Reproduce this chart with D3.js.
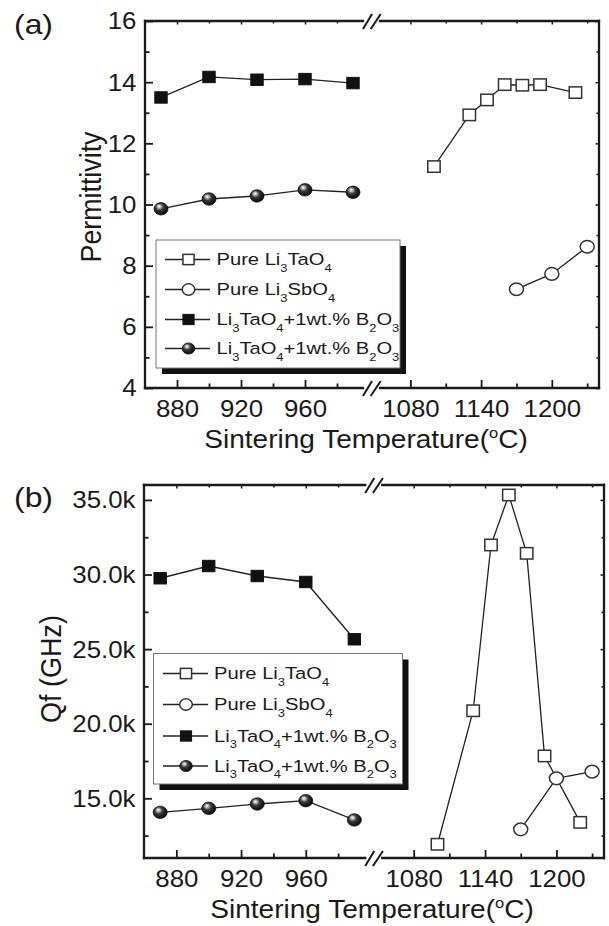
<!DOCTYPE html>
<html><head><meta charset="utf-8">
<script src="https://cdn.jsdelivr.net/npm/d3@7"></script>
<style>
body{margin:0;background:#fff}
svg{display:block}
text{font-family:"Liberation Sans",Arial,Helvetica,sans-serif;fill:#1a1a1a}
</style>
</head><body>
<svg id="c" width="609" height="926"></svg>
<script>
// ---------------- data ----------------
const pureTaTemps = [1100, 1130, 1145, 1160, 1175, 1190, 1220];
const pureSbTemps = [1170, 1200, 1230];
const dopedTemps  = [870, 900, 930, 960, 990];

const permPureTa   = [11.24, 12.93, 13.42, 13.92, 13.90, 13.92, 13.66];
const permPureSb   = [7.23, 7.73, 8.62];
const permDopedSq  = [13.50, 14.17, 14.08, 14.10, 13.97];
const permDopedSph = [9.86, 10.18, 10.28, 10.48, 10.40];

const qfPureTa   = [11920, 20870, 31980, 35330, 31420, 17840, 13390];
const qfPureSb   = [12920, 16340, 16790];
const qfDopedSq  = [29750, 30570, 29900, 29500, 25660];
const qfDopedSph = [14060, 14330, 14620, 14840, 13550];

const xMajorLeft  = [880, 920, 960];
const xMinorLeft  = [900, 940, 980];
const xMajorRight = [1080, 1140, 1200];
const xMinorRight = [1110, 1170, 1230];

const permTicks = [4, 6, 8, 10, 12, 14, 16];
const permMinor = [5, 7, 9, 11, 13, 15];
const qfTicks   = [15000, 20000, 25000, 30000, 35000];
const qfMinor   = [12500, 17500, 22500, 27500, 32500];

const legendLabels = [
  [["Pure Li",0],["3",1],["TaO",0],["4",1]],
  [["Pure Li",0],["3",1],["SbO",0],["4",1]],
  [["Li",0],["3",1],["TaO",0],["4",1],["+1wt.% B",0],["2",1],["O",0],["3",1]],
  [["Li",0],["3",1],["TaO",0],["4",1],["+1wt.% B",0],["2",1],["O",0],["3",1]]
];
const markerTypes = ["osq","oci","fsq","sph"];
const xTitle = "Sintering Temperature(";

// ---------------- drawing ----------------
const svg = d3.select("#c");
const defs = svg.append("defs");
const grad = defs.append("radialGradient").attr("id","sph")
  .attr("cx","0.42").attr("cy","0.40").attr("r","0.62").attr("fx","0.36").attr("fy","0.30");
grad.append("stop").attr("offset","0").attr("stop-color","#ffffff");
grad.append("stop").attr("offset","0.16").attr("stop-color","#c8c8c8");
grad.append("stop").attr("offset","0.45").attr("stop-color","#3a3a3a");
grad.append("stop").attr("offset","1").attr("stop-color","#050505");

const SX = 1.1;
const INK = "#1a1a1a";

function marker(g, type, cx, cy, s) {
  s = s || 1;
  if (type === "osq") {
    g.append("rect").attr("x", cx-6.2*s).attr("y", cy-5.7*s).attr("width", 12.4*s).attr("height", 11.4*s)
      .attr("fill","#fff").attr("stroke","#333").attr("stroke-width",1.5);
  } else if (type === "fsq") {
    g.append("rect").attr("x", cx-6.2*s).attr("y", cy-5.7*s).attr("width", 12.4*s).attr("height", 11.4*s)
      .attr("fill","#111").attr("stroke","#111").attr("stroke-width",1);
  } else if (type === "oci") {
    g.append("ellipse").attr("cx", cx).attr("cy", cy).attr("rx", 7*s).attr("ry", 6.3*s)
      .attr("fill","#fff").attr("stroke","#333").attr("stroke-width",1.5);
  } else {
    g.append("ellipse").attr("cx", cx).attr("cy", cy).attr("rx", 7*s).attr("ry", 6.2*s)
      .attr("fill","url(#sph)").attr("stroke","#111").attr("stroke-width",0.8);
  }
}

function richText(g, parts, x, y, size, subSize, sx) {
  const t = g.append("text").attr("transform", `translate(${x},${y}) scale(${sx},1)`)
    .attr("font-size", size);
  let lowered = false;
  parts.forEach(([s, sub]) => {
    const ts = t.append("tspan").text(s);
    if (sub && !lowered) { ts.attr("dy", 6.5).attr("font-size", subSize); lowered = true; }
    else if (sub) { ts.attr("font-size", subSize); }
    else if (!sub && lowered) { ts.attr("dy", -6.5); lowered = false; }
  });
  return t;
}

function panel(cfg) {
  const { L, B1, B2, R, T, Bot, yDomain, yTicks, yMinor, yFmt, series,
          yTitle, yTitleX, yTitleY, yTitleSize, tag, tagY, leg, xTitleX } = cfg;
  const xl = d3.scaleLinear([860, 1000], [L, B1]);
  const xr = d3.scaleLinear([1050, 1240], [B2, R]);
  const x = v => v < 1020 ? xl(v) : xr(v);
  const y = d3.scaleLinear(yDomain, [Bot, T]);
  const g = svg.append("g");

  function ax(axis, tx, ty, sw) {
    const a = g.append("g").attr("transform", `translate(${tx},${ty})`).call(axis);
    a.attr("font-size", null).attr("font-family", null);
    a.select(".domain").remove();
    a.selectAll("line").attr("stroke", INK).attr("stroke-width", sw || 1.8);
    return a;
  }
  // bottom x ticks with labels
  [xl, xr].forEach((sc, i) => {
    const maj = i ? xMajorRight : xMajorLeft, mnr = i ? xMinorRight : xMinorLeft;
    const a = ax(d3.axisBottom(sc).tickValues(maj).tickSize(-8).tickPadding(12.3).tickFormat(d3.format("d")), 0, Bot);
    a.selectAll("text").attr("font-size", 23.5).attr("fill", INK).attr("transform", `scale(${SX},1)`);
    ax(d3.axisBottom(sc).tickValues(mnr).tickSize(-4.5).tickFormat(""), 0, Bot);
    ax(d3.axisTop(sc).tickValues(maj).tickSize(-3.5).tickFormat(""), 0, T, 1.5);
    ax(d3.axisTop(sc).tickValues(mnr).tickSize(-2.5).tickFormat(""), 0, T, 1.5);
  });
  // y ticks
  const ay = ax(d3.axisLeft(y).tickValues(yTicks).tickSize(-8).tickPadding(0).tickFormat(yFmt), L, 0);
  ay.selectAll("text").attr("font-size", 23.5).attr("fill", INK).attr("x", 0).attr("dy", "0.34em")
    .attr("transform", `translate(-8.5,0) scale(${SX},1)`);
  ax(d3.axisLeft(y).tickValues(yMinor).tickSize(-4.5).tickFormat(""), L, 0);
  ax(d3.axisRight(y).tickValues(yTicks).tickSize(-3.5).tickFormat(""), R, 0, 1.5);
  ax(d3.axisRight(y).tickValues(yMinor).tickSize(-2.5).tickFormat(""), R, 0, 1.5);

  // frame with axis break
  const c = (B1 + B2) / 2;
  const fr = g.append("g").attr("stroke", INK).attr("stroke-width", 2.3).attr("fill", "none").attr("stroke-linecap","square");
  fr.append("line").attr("x1", L).attr("y1", T).attr("x2", L).attr("y2", Bot);
  fr.append("line").attr("x1", R).attr("y1", T).attr("x2", R).attr("y2", Bot);
  [T, Bot].forEach(yy => {
    fr.append("line").attr("x1", L).attr("y1", yy).attr("x2", c - 9).attr("y2", yy);
    fr.append("line").attr("x1", c + 8).attr("y1", yy).attr("x2", R).attr("y2", yy);
    const sl = g.append("g").attr("stroke", INK).attr("stroke-width", 2);
    sl.append("line").attr("x1", c - 9).attr("y1", yy + 8).attr("x2", c).attr("y2", yy - 7);
    sl.append("line").attr("x1", c - 1.3).attr("y1", yy + 8).attr("x2", c + 8.7).attr("y2", yy - 7);
  });

  // series
  const line = d3.line().x(d => x(d[0])).y(d => y(d[1]));
  series.forEach(s => {
    const pts = s.t.map((t, i) => [t, s.v[i]]);
    g.append("path").attr("d", line(pts)).attr("fill", "none").attr("stroke", "#222").attr("stroke-width", 1.3);
  });
  series.forEach(s => {
    s.t.forEach((t, i) => marker(g, s.m, x(t), y(s.v[i])));
  });

  // legend
  const lg = g.append("g");
  lg.append("rect").attr("x", leg.x + 6).attr("y", leg.y + 6).attr("width", leg.w).attr("height", leg.h).attr("fill", "#111");
  lg.append("rect").attr("x", leg.x).attr("y", leg.y).attr("width", leg.w).attr("height", leg.h)
    .attr("fill", "#fff").attr("stroke", "#777").attr("stroke-width", 1);
  legendLabels.forEach((parts, i) => {
    const cy = leg.rows[i];
    lg.append("line").attr("x1", leg.l1).attr("x2", leg.l2).attr("y1", cy).attr("y2", cy)
      .attr("stroke", "#222").attr("stroke-width", 1.4);
    marker(lg, markerTypes[i], leg.mx, cy, 0.9);
    richText(lg, parts, leg.tx, cy + 5.8, 16.8, 10.8, 1.2);
  });

  // axis titles
  const xt = g.append("text").attr("transform", `translate(${xTitleX},${Bot + 60}) scale(${SX},1)`)
    .attr("text-anchor", "middle").attr("font-size", 25.5);
  xt.append("tspan").text(xTitle);
  xt.append("tspan").text("o").attr("font-size", 15).attr("dy", -10);
  xt.append("tspan").text("C)").attr("dy", 10);

  g.append("text").attr("transform", `translate(${yTitleX},${yTitleY}) scale(1.12,1) rotate(-90)`)
    .attr("text-anchor", "middle").attr("font-size", yTitleSize).text(yTitle);

  g.append("text").attr("transform", `translate(14,${tagY}) scale(1.12,1)`)
    .attr("font-size", 28.5).text(tag);
}

panel({
  L: 145, B1: 369, B2: 375, R: 599, T: 21, Bot: 388,
  yDomain: [4, 16], yTicks: permTicks, yMinor: permMinor, yFmt: d3.format("d"),
  series: [
    { t: pureTaTemps, v: permPureTa, m: "osq" },
    { t: pureSbTemps, v: permPureSb, m: "oci" },
    { t: dopedTemps, v: permDopedSq, m: "fsq" },
    { t: dopedTemps, v: permDopedSph, m: "sph" }
  ],
  yTitle: "Permittivity", yTitleX: 101, yTitleY: 197, yTitleSize: 26.8,
  tag: "(a)", tagY: 34,
  leg: { x: 156, y: 240, w: 244, h: 128, rows: [259.5, 289.5, 319.5, 348.5], l1: 165, l2: 210, mx: 188.5, tx: 216.5 },
  xTitleX: 366
});

panel({
  L: 144, B1: 370.5, B2: 378, R: 604, T: 485, Bot: 858,
  yDomain: [11000, 36000], yTicks: qfTicks, yMinor: qfMinor, yFmt: d => d3.format(".1f")(d / 1000) + "k",
  series: [
    { t: pureTaTemps, v: qfPureTa, m: "osq" },
    { t: pureSbTemps, v: qfPureSb, m: "oci" },
    { t: dopedTemps, v: qfDopedSq, m: "fsq" },
    { t: dopedTemps, v: qfDopedSph, m: "sph" }
  ],
  yTitle: "Qf (GHz)", yTitleX: 61, yTitleY: 669, yTitleSize: 27,
  tag: "(b)", tagY: 507,
  leg: { x: 153.5, y: 653.5, w: 249, h: 130.5, rows: [673.5, 704.5, 736, 766], l1: 163, l2: 208, mx: 186, tx: 214 },
  xTitleX: 372
});
</script>
</body></html>
